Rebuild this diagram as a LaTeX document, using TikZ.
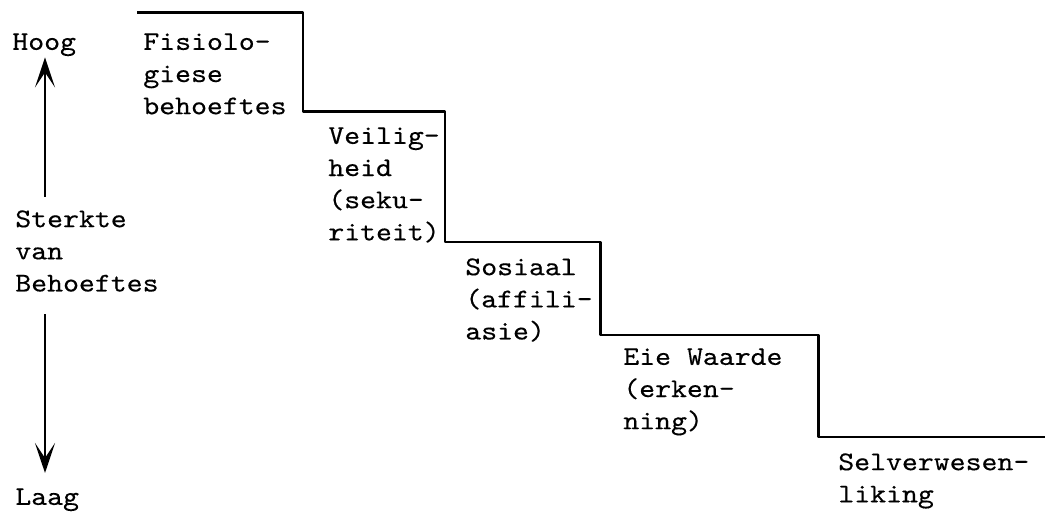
\documentclass[tikz,border=0pt]{standalone}
\usepackage{fontspec}
\setmonofont{lmmono10-regular.otf}[FakeStretch=1.12, FakeBold=0.3]
\usetikzlibrary{arrows.meta}

\tikzset{
  lbl/.style={anchor=north west, inner sep=0pt, align=left,
    font=\ttfamily\fontsize{15.4}{18.3}\selectfont},
  trap/.style={line width=1.7pt, line join=round},
  pyl/.style={line width=1.3pt, -{Stealth[length=6mm, width=4mm, inset=3mm]}}
}

\begin{document}
\begin{tikzpicture}
	\useasboundingbox (0,0) rectangle (20.9,10.48);

	% staircase
	\draw[trap] (2.74,10.22) -- (6.06,10.22) -- (6.06,8.24) -- (8.9,8.24)
		-- (8.9,5.64) -- (12,5.64) -- (12,3.78) -- (16.36,3.78)
		-- (16.36,1.74) -- (20.9,1.74);

	% steps
	\node[lbl] (fis) at (2.86,9.82) {Fisiolo-\\giese\\behoeftes};
	\node[lbl] (vei) at (6.56,7.94) {Veilig-\\heid\\(seku-\\riteit)};
	\node[lbl] (sos) at (9.3,5.32) {Sosiaal\\(affili-\\asie)};
	\node[lbl] (eie) at (12.46,3.52) {Eie Waarde\\(erken-\\ning)};
	\node[lbl] (sel) at (16.76,1.42) {Selverwesen-\\liking};

	% scale on the left
	\node[lbl] (hoog) at (0.24,9.82) {Hoog};
	\node[lbl] (sterkte) at (0.3,6.28) {Sterkte\\van\\Behoeftes};
	\node[lbl] (laag) at (0.3,0.72) {Laag};

	\draw[pyl] ([xshift=0.6cm, yshift=0.26cm]sterkte.north west) -- ([xshift=0.66cm, yshift=-0.02cm]hoog.south west);
	\draw[pyl] ([xshift=0.6cm, yshift=-0.44cm]sterkte.south west) -- ([xshift=0.6cm, yshift=0.3cm]laag.north west);
\end{tikzpicture}
\end{document}
